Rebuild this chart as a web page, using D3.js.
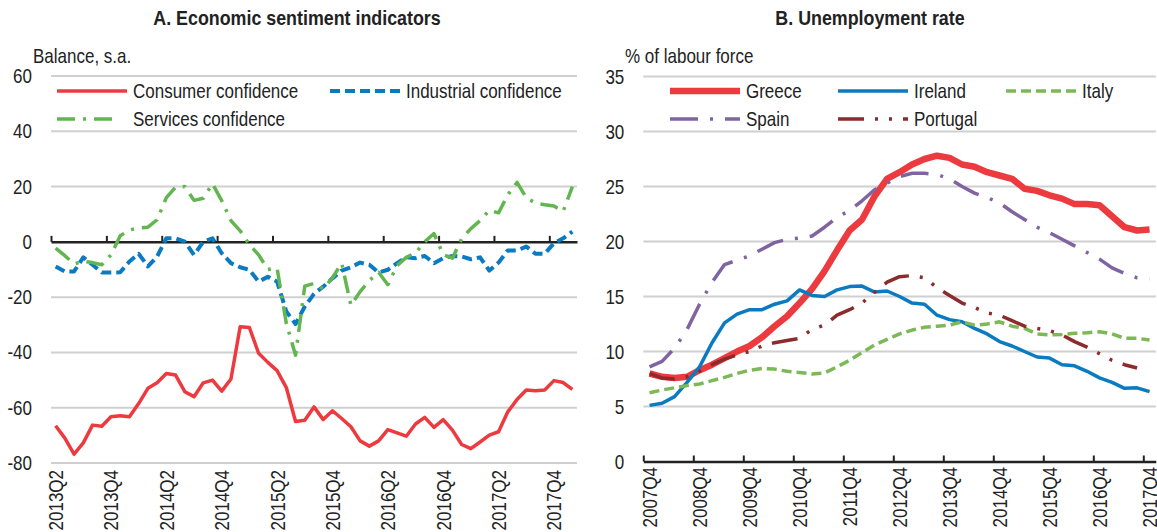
<!DOCTYPE html>
<html>
<head>
<meta charset="utf-8">
<script src="https://cdn.jsdelivr.net/npm/d3@7"></script>
<style>
  body { margin: 0; background: #fff; }
  svg text { font-family: "Liberation Sans", Arial, sans-serif; fill: #222; }
</style>
</head>
<body>
<svg width="1157" height="532"></svg>
<script>
// ---- Panel A: monthly, 2013-04 .. 2017-12
const ticksA = ["2013Q2","2013Q4","2014Q2","2014Q4","2015Q2","2015Q4","2016Q2","2016Q4","2017Q2","2017Q4"];
const consumer = [-66.5,-71,-76.8,-72.7,-66.3,-66.7,-63.3,-62.9,-63.3,-58.5,-53,-51,-47.6,-48.2,-54.2,-56,-51,-50,-54,-49.6,
  -30.7,-31,-40.3,-43.6,-46.6,-52.7,-65,-64.5,-59.7,-64.3,-61.1,-63.9,-66.9,-72,-73.9,-72,-67.9,-69.1,-70.3,-65.9,
  -63.5,-67.1,-64.3,-68.1,-73.3,-74.8,-72.4,-69.9,-68.7,-61.5,-57,-53.6,-53.9,-53.6,-50.2,-50.9,-53.4];
const industrial = [-8.9,-10.7,-10.7,-5.6,-8.3,-11.1,-11.1,-11,-7.1,-4.3,-8.9,-5.3,1.3,1.3,0.1,-4.7,0,1.3,-4.1,-7.7,
  -9.2,-10.1,-14.4,-12.6,-14.4,-25.2,-29.7,-23.4,-18.8,-16.2,-13.2,-10.4,-9.2,-7.5,-8.3,-11.1,-10.1,-7.7,-5.6,-5.9,
  -5.1,-7.7,-5.9,-5.1,-5.3,-6.3,-5.6,-10.4,-7.5,-3.1,-3.1,-1.7,-4.3,-4.3,-0.5,1.3,3.7];
const services = [-2.3,-5,-8,-7,-7.5,-8.3,-4.7,2.2,4.3,5,5.3,8,16,19.8,20,15,15.8,21,14.9,7.7,
  4,-1,-4.7,-10,-9.5,-29.5,-41,-16,-15,-17,-13,-7.7,-23,-18,-14,-11,-15.5,-8.6,-5.6,-4,
  0,3,-4.6,-5.9,1.1,4.8,7.7,11.4,10.5,17,21.5,16,14,13.4,13,11,20];
const yTicksA = [60,40,20,0,-20,-40,-60,-80];

// ---- Panel B: quarterly, 2007Q4 .. 2017Q4
const ticksB = ["2007Q4","2008Q4","2009Q4","2010Q4","2011Q4","2012Q4","2013Q4","2014Q4","2015Q4","2016Q4","2017Q4"];
const greece = [8.0,7.7,7.6,7.7,8.3,8.8,9.4,10.0,10.5,11.3,12.3,13.2,14.4,15.7,17.3,19.2,21.0,22.0,24.1,25.7,
  26.3,27.0,27.5,27.8,27.6,27.0,26.8,26.3,26.0,25.7,24.8,24.6,24.2,23.9,23.4,23.4,23.3,22.3,21.3,21.0,21.1];
const ireland = [5.1,5.3,5.9,7.2,8.6,10.8,12.6,13.4,13.8,13.8,14.3,14.6,15.6,15.1,15.0,15.6,15.9,15.95,15.4,15.5,
  15.0,14.4,14.3,13.3,12.9,12.7,12.1,11.6,10.9,10.5,10.0,9.5,9.4,8.8,8.7,8.2,7.6,7.2,6.65,6.7,6.35];
const italy = [6.25,6.5,6.7,6.9,7.05,7.35,7.65,8.0,8.3,8.45,8.4,8.2,8.1,7.95,8.05,8.6,9.2,9.9,10.6,11.1,
  11.6,11.95,12.2,12.3,12.4,12.7,12.4,12.5,12.7,12.3,12.1,11.6,11.5,11.55,11.65,11.7,11.8,11.6,11.2,11.2,11.05];
const spain = [8.6,9.1,10.3,12.0,14.3,16.3,17.9,18.3,18.7,19.3,19.9,20.2,20.3,20.5,21.3,22.2,22.8,23.7,24.7,25.3,
  25.9,26.2,26.2,26.1,25.7,25.0,24.4,24.0,23.5,22.7,22.0,21.3,20.8,20.2,19.6,19.0,18.4,17.6,17.1,16.7,16.6];
const portugal = [8.0,7.6,7.5,7.7,8.2,8.8,9.3,9.7,10.0,10.5,10.8,11.0,11.2,12.0,12.4,13.3,13.8,14.4,15.4,16.3,
  16.8,16.9,16.7,15.8,15.1,14.4,14.0,13.5,13.3,12.8,12.3,12.1,11.9,11.5,10.9,10.4,9.8,9.2,8.8,8.5,null];
const yTicksB = [35,30,25,20,15,10,5,0];

const RED = "#ec3a3f", BLUE = "#0b7bc1", GREEN = "#62b64f", LGREEN = "#7cb855", PURPLE = "#8064a2", DRED = "#8b2b2b";
const SQ = 0.85;   // no narrow font installed: squeeze text horizontally

const svg = d3.select("svg");

function label(g, x, y, str, size, anchor, bold) {
  return g.append("text")
    .attr("transform", `translate(${x},${y}) scale(${SQ},1)`)
    .attr("text-anchor", anchor || "start")
    .style("font-size", size + "px")
    .style("font-weight", bold ? "bold" : null)
    .text(str);
}

function panel(o) {
  const g = svg.append("g");
  const n = o.series[0].values.length;
  const x = d3.scaleLinear().domain([0, n]).range(o.xRange);
  const y = d3.scaleLinear().domain(o.yDomain).range(o.yRange);

  label(g, o.titleX, 25, o.title, 21, "middle", true);
  label(g, o.unitX, 63, o.unit, 20);

  // gridlines
  g.selectAll(".grid").data(o.yTicks.filter(d => d !== 0)).join("line")
    .attr("x1", o.xRange[0]).attr("x2", o.xRange[1])
    .attr("y1", d => y(d)).attr("y2", d => y(d))
    .attr("stroke", "#d0d0d0").attr("stroke-width", 2);

  // y tick labels
  o.yTicks.forEach(d => label(g, o.xRange[0] - 19, y(d) + 7, d, 20, "end"));

  // zero axis with upward ticks
  const axZero = g.append("g").attr("transform", `translate(0,${y(0)})`)
    .call(d3.axisBottom(x).tickValues(o.tickIdx).tickSize(-6).tickSizeOuter(0).tickFormat(""));
  axZero.select(".domain").attr("stroke", "#222").attr("stroke-width", 2.5);
  axZero.selectAll(".tick line").attr("stroke", "#222").attr("stroke-width", 2);

  // rotated category labels at the bottom
  const axLab = g.append("g").attr("transform", `translate(0,${o.labelY})`)
    .call(d3.axisBottom(x).tickValues(o.tickIdx.map(i => i + 0.5)).tickSize(0)
      .tickFormat((d, i) => o.tickLabels[i]));
  axLab.select(".domain").remove();
  axLab.selectAll("text")
    .attr("transform", `rotate(-90) scale(${SQ},1)`).attr("x", 0).attr("y", 0)
    .attr("dy", "0.35em").attr("text-anchor", "end")
    .style("font-size", "20px").style("font-family", null).attr("fill", null);

  // series
  const line = d3.line().defined(d => d != null).x((d, i) => x(i + 0.5)).y(d => y(d));
  o.series.forEach(s => {
    g.append("path").attr("d", line(s.values)).attr("fill", "none")
      .attr("stroke", s.color).attr("stroke-width", s.width)
      .attr("stroke-dasharray", s.dash || null).attr("stroke-linejoin", "round");
  });

  // legend
  o.series.forEach(s => {
    const len = s.llen || 70;
    g.append("line").attr("x1", s.lx).attr("x2", s.lx + len).attr("y1", s.ly).attr("y2", s.ly)
      .attr("stroke", s.color).attr("stroke-width", s.width).attr("stroke-dasharray", s.dash || null);
    label(g, s.lx + len + 6, s.ly + 7, s.name, 20);
  });
}

panel({
  title: "A. Economic sentiment indicators", titleX: 297, unit: "Balance, s.a.", unitX: 33,
  xRange: [51, 577], yDomain: [-80, 60], yRange: [463, 76], yTicks: yTicksA,
  tickIdx: d3.range(0, 57, 6), tickLabels: ticksA, labelY: 470,
  series: [
    { name: "Consumer confidence", values: consumer, color: RED, width: 3.5, lx: 57, ly: 91 },
    { name: "Industrial confidence", values: industrial, color: BLUE, width: 4, dash: "10,5", lx: 330, ly: 91 },
    { name: "Services confidence", values: services, color: GREEN, width: 3.5, dash: "18,8,3,8", llen: 58, lx: 57, ly: 119 }
  ]
});
// Services legend text aligned with the first-row text
svg.selectAll("text").filter(function() { return this.textContent === "Services confidence"; })
  .attr("transform", `translate(133,126) scale(${SQ},1)`);

panel({
  title: "B. Unemployment rate", titleX: 870, unit: "% of labour force", unitX: 625,
  xRange: [643.3, 1155.8], yDomain: [0, 35], yRange: [461.5, 76.5], yTicks: yTicksB,
  tickIdx: d3.range(0, 41, 4), tickLabels: ticksB, labelY: 467,
  series: [
    { name: "Greece", values: greece, color: RED, width: 6.5, lx: 670, ly: 91 },
    { name: "Ireland", values: ireland, color: BLUE, width: 3.5, lx: 838, ly: 91 },
    { name: "Italy", values: italy, color: LGREEN, width: 3.5, dash: "10,5", lx: 1006, ly: 91 },
    { name: "Spain", values: spain, color: PURPLE, width: 3.5, dash: "28,12,3,12", lx: 670, ly: 119 },
    { name: "Portugal", values: portugal, color: DRED, width: 3.5, dash: "26,11,3,11,3,11", lx: 838, ly: 119 }
  ]
});
</script>
</body>
</html>
